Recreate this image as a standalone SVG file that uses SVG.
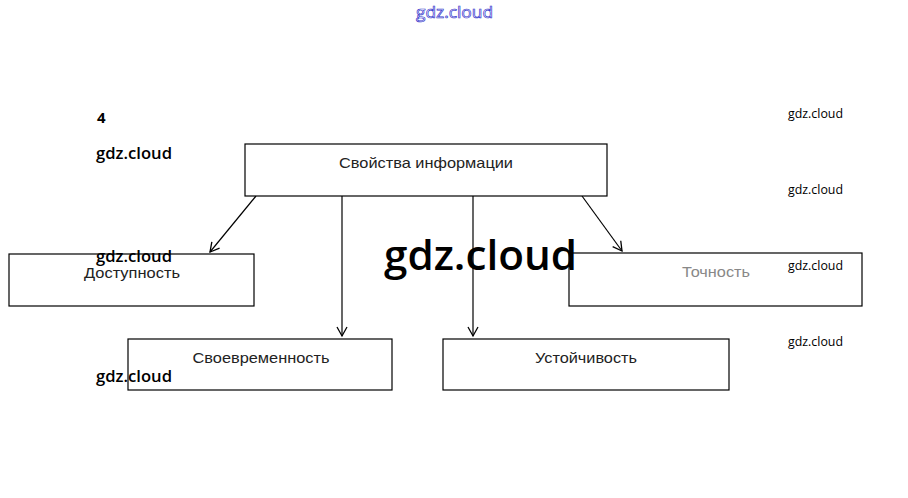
<svg xmlns="http://www.w3.org/2000/svg" width="908" height="498" viewBox="0 0 908 498">
<defs>
<marker id="ah" markerWidth="12" markerHeight="12" refX="10" refY="6" orient="auto" markerUnits="userSpaceOnUse">
<path d="M1,1 L10,6 L1,11" fill="none" stroke="#000" stroke-width="1.3"/>
</marker>
<style>
.box{fill:#fff;stroke:#000;stroke-width:1.2}
.lbl{font-family:"Liberation Sans","Noto Sans",sans-serif;font-size:15px;fill:#222;text-anchor:middle}
.wm{font-family:"Open Sans","Noto Sans",sans-serif;font-weight:600;fill:#000}
.con{stroke:#000;stroke-width:1.2;fill:none;marker-end:url(#ah)}
</style>
</defs>
<rect width="908" height="498" fill="#fff"/>
<g id="connectors">
<line class="con" x1="256" y1="196" x2="210" y2="252"/>
<line class="con" x1="342" y1="196" x2="342" y2="336"/>
<line class="con" x1="473" y1="196" x2="473" y2="336"/>
<line class="con" x1="582" y1="196" x2="622" y2="251"/>
</g>
<g id="n-svoistva">
<rect class="box" x="245" y="144" width="362" height="52"/>
<text class="lbl" x="426" y="168" textLength="174" lengthAdjust="spacingAndGlyphs">Свойства информации</text>
</g>
<g id="n-dostupnost">
<rect class="box" x="9" y="254" width="245" height="52"/>
<text class="lbl" x="132" y="278" textLength="96" lengthAdjust="spacingAndGlyphs">Доступность</text>
</g>
<g id="n-tochnost">
<rect class="box" x="569" y="253" width="293" height="53"/>
<text class="lbl" x="716" y="277" textLength="68" lengthAdjust="spacingAndGlyphs" style="fill:#888">Точность</text>
</g>
<g id="n-svoevremennost">
<rect class="box" x="128" y="339" width="264" height="51"/>
<text class="lbl" x="261" y="363" textLength="137" lengthAdjust="spacingAndGlyphs">Своевременность</text>
</g>
<g id="n-ustoichivost">
<rect class="box" x="443" y="339" width="286" height="51"/>
<text class="lbl" x="586" y="363" textLength="102" lengthAdjust="spacingAndGlyphs">Устойчивость</text>
</g>
<g id="watermarks">
<text class="wm" x="97" y="123" font-size="15" style="font-weight:700">4</text>
<text class="wm" x="96" y="159" font-size="17" textLength="76" lengthAdjust="spacingAndGlyphs">gdz.cloud</text>
<text class="wm" x="96" y="262" font-size="17" textLength="76" lengthAdjust="spacingAndGlyphs">gdz.cloud</text>
<text class="wm" x="96" y="382" font-size="17" textLength="76" lengthAdjust="spacingAndGlyphs">gdz.cloud</text>
<text class="wm" x="788" y="118" font-size="12.5" textLength="55" lengthAdjust="spacingAndGlyphs" style="font-weight:500">gdz.cloud</text>
<text class="wm" x="788" y="194" font-size="12.5" textLength="55" lengthAdjust="spacingAndGlyphs" style="font-weight:500">gdz.cloud</text>
<text class="wm" x="788" y="270" font-size="12.5" textLength="55" lengthAdjust="spacingAndGlyphs" style="font-weight:500">gdz.cloud</text>
<text class="wm" x="788" y="346" font-size="12.5" textLength="55" lengthAdjust="spacingAndGlyphs" style="font-weight:500">gdz.cloud</text>
<text class="wm" x="384" y="270" font-size="42" textLength="193" lengthAdjust="spacingAndGlyphs">gdz.cloud</text>
<text x="416" y="18" font-family="'Open Sans','Noto Sans',sans-serif" font-size="17" fill="#fff" stroke="#3333cc" stroke-width="0.7" textLength="77" lengthAdjust="spacingAndGlyphs">gdz.cloud</text>
</g>
</svg>
